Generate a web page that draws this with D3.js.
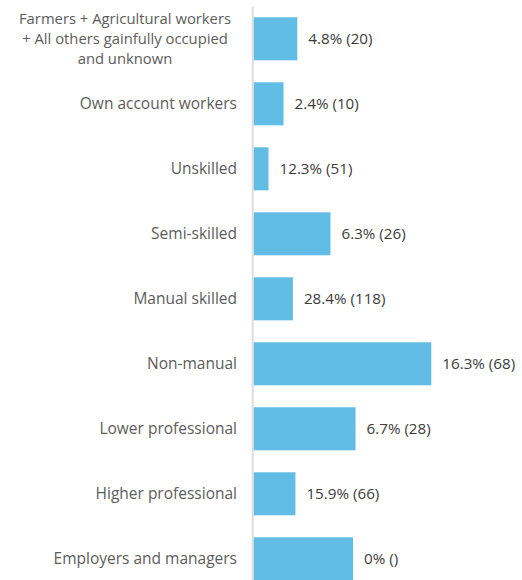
<!DOCTYPE html>
<html><head><meta charset="utf-8"><script src="https://cdn.jsdelivr.net/npm/d3@7"></script>
<style>body{margin:0;background:#fff}</style></head>
<body>
<svg id="chart" width="522" height="580"></svg>
<script>
// Occupational class categories, top to bottom
const categories = [
  "Farmers + Agricultural workers + All others gainfully occupied and unknown",
  "Own account workers",
  "Unskilled",
  "Semi-skilled",
  "Manual skilled",
  "Non-manual",
  "Lower professional",
  "Higher professional",
  "Employers and managers"
];
// Share of respondents (%) and counts per category
const percents = [7.0, 4.8, 2.4, 12.3, 6.3, 28.4, 16.3, 6.7, 15.9];
const counts   = [29, 20, 10, 51, 26, 118, 68, 28, 66];
// Wrapped lines for the long first category
const wrappedLines = ["Farmers + Agricultural workers", "+ All others gainfully occupied", "and unknown"];

const W = 522, H = 580;
const svg = d3.select("#chart");
const font = "'Open Sans', sans-serif";

const x = d3.scaleLinear().domain([0, 30]).range([253.5, 441.3]);
const y = d3.scaleBand().domain(categories).range([6.3, 591.3])
  .paddingInner(0.338).paddingOuter(0.169);

// value labels are read from the following row; the last row has none
const labelFor = i => i + 1 < percents.length
  ? `${d3.format(".1f")(percents[i + 1])}% (${counts[i + 1]})`
  : "0% ()";

// bars
svg.append("g").selectAll("rect").data(categories).join("rect")
  .attr("x", x(0))
  .attr("y", d => y(d))
  .attr("width", (d, i) => x(percents[i]) - x(0))
  .attr("height", y.bandwidth())
  .attr("fill", "#62bde6");

// baseline
svg.append("line")
  .attr("x1", 252.7).attr("x2", 252.7)
  .attr("y1", 6.7).attr("y2", H)
  .attr("stroke", "#dddddd").attr("stroke-width", 2);

// value labels
svg.append("g").selectAll("text").data(categories).join("text")
  .attr("x", (d, i) => x(percents[i]) + 11)
  .attr("y", d => y(d) + y.bandwidth() / 2)
  .attr("dy", "0.35em")
  .attr("font-family", font).attr("font-size", 15.2)
  .attr("fill", "#3c3c3c")
  .text((d, i) => labelFor(i));

// category labels
const cat = svg.append("g");
categories.forEach((c, i) => {
  const cy = y(c) + y.bandwidth() / 2;
  if (i === 0) {
    wrappedLines.forEach((ln, k) => {
      cat.append("text")
        .attr("x", 125).attr("y", cy + (k - 1) * 20.3).attr("dy", "0.35em")
        .attr("text-anchor", "middle")
        .attr("font-family", font).attr("font-size", 14.8)
        .attr("fill", "#5c5c5c")
        .text(ln);
    });
  } else {
    cat.append("text")
      .attr("x", 237).attr("y", cy).attr("dy", "0.35em")
      .attr("text-anchor", "end")
      .attr("font-family", font).attr("font-size", 15.5)
      .attr("fill", "#5c5c5c")
      .text(c);
  }
});
</script></body></html>
